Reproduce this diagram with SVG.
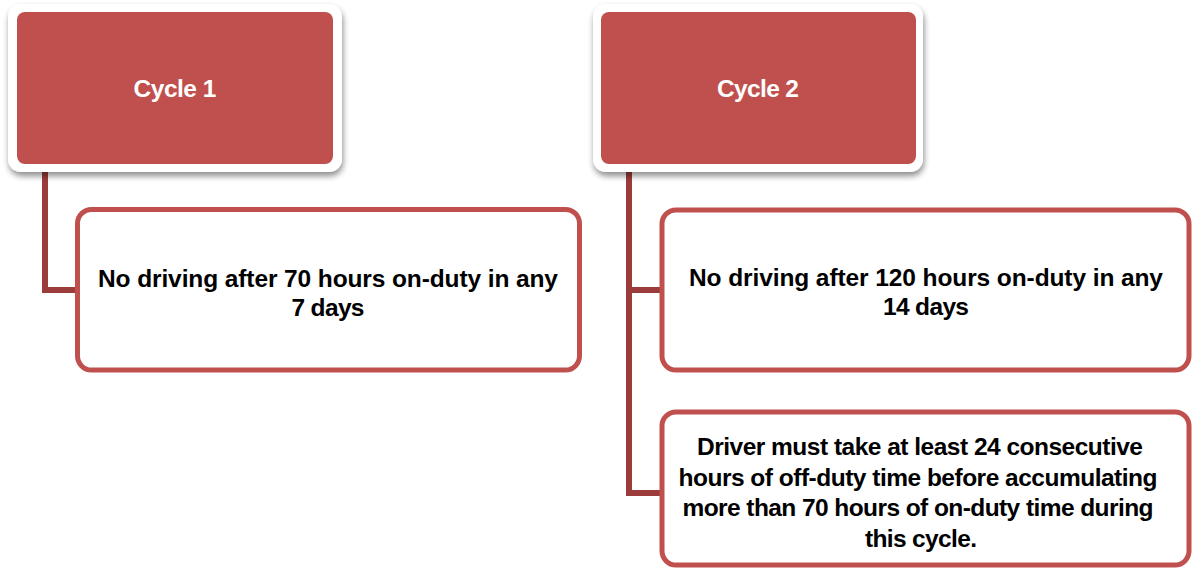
<svg xmlns="http://www.w3.org/2000/svg" width="1193" height="569" viewBox="0 0 1193 569">
  <defs>
    <filter id="sh" x="-10%" y="-10%" width="125%" height="130%">
      <feGaussianBlur in="SourceAlpha" stdDeviation="3"/>
      <feOffset dx="1" dy="4" result="b"/>
      <feComponentTransfer><feFuncA type="linear" slope="0.45"/></feComponentTransfer>
      <feMerge><feMergeNode/><feMergeNode in="SourceGraphic"/></feMerge>
    </filter>
  </defs>
  <style>
    .frame { fill: #ffffff; }
    .head { fill: #c0504d; }
    .child { fill: #ffffff; stroke: #c0504d; stroke-width: 5; }
    .conn { fill: none; stroke: #9b3c3a; stroke-width: 6; }
    .ht { font-family: "Liberation Sans", Arial, sans-serif; font-weight: bold; font-size: 24.5px; fill: #ffffff; text-anchor: middle; }
    .ct { font-family: "Liberation Sans", Arial, sans-serif; font-weight: bold; font-size: 24.5px; fill: #000000; text-anchor: middle; }
  </style>
  <rect width="1193" height="569" fill="#ffffff"/>

  <g id="connectors">
    <path class="conn" d="M45,168 V290 H78"/>
    <path class="conn" d="M629,168 V493 H662 M629,290 H662"/>
  </g>

  <g id="cycle1">
    <rect class="frame" x="8" y="4" width="334" height="168" rx="13" filter="url(#sh)"/>
    <rect class="head" x="17" y="12" width="316" height="152" rx="8"/>
    <text class="ht" x="175" y="97" textLength="83">Cycle 1</text>
  </g>

  <g id="cycle2">
    <rect class="frame" x="593" y="4" width="330" height="168" rx="13" filter="url(#sh)"/>
    <rect class="head" x="601" y="12" width="315" height="152" rx="8"/>
    <text class="ht" x="758" y="97" textLength="82">Cycle 2</text>
  </g>

  <g id="rule1">
    <rect class="child" x="77.5" y="209.5" width="502" height="160.5" rx="14"/>
    <text class="ct" x="328" y="287" textLength="460">No driving after 70 hours on-duty in any</text>
    <text class="ct" x="328" y="316" textLength="73">7 days</text>
  </g>

  <g id="rule2">
    <rect class="child" x="662" y="210" width="527" height="160" rx="14"/>
    <text class="ct" x="926" y="286" textLength="474">No driving after 120 hours on-duty in any</text>
    <text class="ct" x="926" y="315" textLength="86">14 days</text>
  </g>

  <g id="rule3">
    <rect class="child" x="662" y="412" width="527" height="153" rx="14"/>
    <text class="ct" x="920" y="455" textLength="446">Driver must take at least 24 consecutive</text>
    <text class="ct" x="918" y="486" textLength="479">hours of off-duty time before accumulating</text>
    <text class="ct" x="918" y="516" textLength="471">more than 70 hours of on-duty time during</text>
    <text class="ct" x="921" y="547" textLength="112">this cycle.</text>
  </g>
</svg>
